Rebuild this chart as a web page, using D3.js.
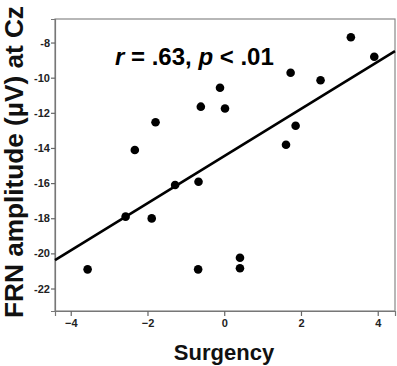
<!DOCTYPE html>
<html>
<head>
<meta charset="utf-8">
<script src="https://cdn.jsdelivr.net/npm/d3@7"></script>
<style>
  body { margin: 0; background: #fff; }
  svg { display: block; font-family: "Liberation Sans", Arial, sans-serif; }
</style>
</head>
<body>
<div id="chart"></div>
<script>
// surgency score vs FRN amplitude
const surgency = [-2.33, -1.79, -0.61, 3.30, 3.91, 1.73, 2.51, -0.11, 0.02, 1.86,
  1.61, -3.56, -2.57, -1.89, -1.28, -0.67, -0.68, 0.41, 0.41];
const frn = [-14.12, -12.54, -11.65, -7.70, -8.81, -9.72, -10.15, -10.57, -11.75, -12.74,
  -13.82, -20.91, -17.91, -18.01, -16.11, -15.92, -20.91, -20.25, -20.85];

const xTicks = [-4, -2, 0, 2, 4];
const yTicks = [-22, -20, -18, -16, -14, -12, -10, -8];

// fitted line (as drawn)
const fitSlope = 1.343,
  fitIntercept = -14.46;

const width = 397,
  height = 366;
const margin = { top: 19, right: 2, bottom: 55, left: 55 };

const svg = d3.select("#chart")
  .append("svg")
  .attr("width", width)
  .attr("height", height);

const x = d3.scaleLinear()
  .domain([-4.41, 4.45])
  .range([margin.left, width - margin.right]);

const y = d3.scaleLinear()
  .domain([-23.28, -6.66])
  .range([height - margin.bottom, margin.top]);

// frame
svg.append("rect")
  .attr("x", margin.left)
  .attr("y", margin.top)
  .attr("width", width - margin.right - margin.left)
  .attr("height", height - margin.bottom - margin.top)
  .attr("fill", "none")
  .attr("stroke", "#888")
  .attr("stroke-width", 1.2);

const xAxis = svg.append("g")
  .attr("transform", `translate(0,${height - margin.bottom})`)
  .call(d3.axisBottom(x).tickValues(xTicks).tickSize(5).tickPadding(3).tickFormat(d3.format("d")));

const yAxis = svg.append("g")
  .attr("transform", `translate(${margin.left},0)`)
  .call(d3.axisLeft(y).tickValues(yTicks).tickSize(4).tickPadding(1).tickFormat(d => String(d)));

for (const g of [xAxis, yAxis]) {
  g.select(".domain").attr("stroke", "#777").attr("stroke-width", 1.2);
  g.selectAll(".tick line").attr("stroke", "#666").attr("stroke-width", 1.2);
  g.selectAll(".tick text")
    .attr("fill", "#222")
    .style("font-size", "11px")
    .style("font-weight", "bold")
    .style("font-family", "'Liberation Sans', Arial, sans-serif");
}

// regression line
const xd = x.domain();
svg.append("line")
  .attr("x1", x(xd[0]))
  .attr("y1", y(fitIntercept + fitSlope * xd[0]))
  .attr("x2", x(xd[1]))
  .attr("y2", y(fitIntercept + fitSlope * xd[1]))
  .attr("stroke", "#000")
  .attr("stroke-width", 2.6);

// points
svg.append("g")
  .selectAll("circle")
  .data(surgency.map((s, i) => [s, frn[i]]))
  .join("circle")
  .attr("cx", d => x(d[0]))
  .attr("cy", d => y(d[1]))
  .attr("r", 4.3)
  .attr("fill", "#000");

// annotation
const note = svg.append("text")
  .attr("x", 115)
  .attr("y", 65)
  .attr("font-size", 24)
  .attr("font-weight", "bold")
  .attr("fill", "#000");
note.append("tspan").attr("font-style", "italic").text("r");
note.append("tspan").text(" = .63, ");
note.append("tspan").attr("font-style", "italic").text("p");
note.append("tspan").text(" < .01");

// axis titles
svg.append("text")
  .attr("x", 224)
  .attr("y", 360)
  .attr("text-anchor", "middle")
  .attr("font-size", 22)
  .attr("font-weight", "bold")
  .attr("fill", "#111")
  .text("Surgency");

svg.append("text")
  .attr("transform", "translate(23,162) rotate(-90)")
  .attr("text-anchor", "middle")
  .attr("font-size", 26.2)
  .attr("font-weight", "bold")
  .attr("fill", "#111")
  .text("FRN amplitude (µV) at Cz");
</script>
</body>
</html>
